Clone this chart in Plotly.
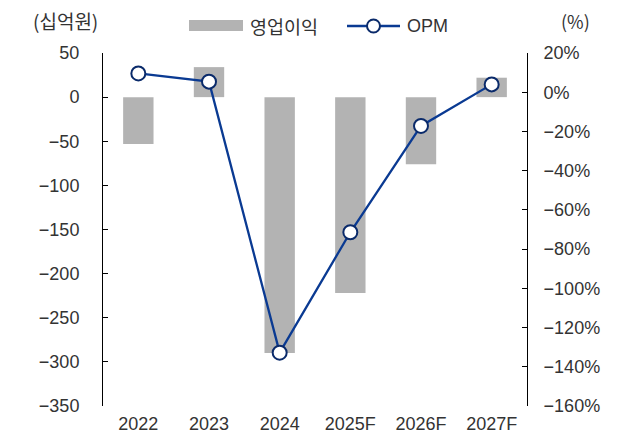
import plotly.graph_objects as go

categories = ["2022", "2023", "2024", "2025F", "2026F", "2027F"]
op_profit = [-53, 34, -290, -222, -76, 22]          # 영업이익 (십억원)
opm = [9.6, 5.4, -132.8, -71.4, -17.2, 4.0]          # OPM (%)

left_range = [-350, 50]
right_range = [-160, 20]
left_ticks = list(range(-350, 51, 50))
right_ticks = list(range(-160, 21, 20))
right_ticktext = [("−" if v < 0 else "") + f"{abs(v)}%" for v in right_ticks]

FONT = "Arial, 'Liberation Sans', 'Noto Sans CJK KR', sans-serif"
KFONT = "'Noto Sans CJK KR', Arial, sans-serif"
TXT = "#333333"
BAR = "#b3b3b3"
LINE = "#0a3a92"
MLINE = "#0a2a6a"

fig = go.Figure()
fig.add_trace(go.Bar(x=categories, y=op_profit, marker=dict(color=BAR, line=dict(width=0)),
                     width=0.43, yaxis="y", showlegend=False, name="영업이익"))
fig.add_trace(go.Scatter(x=categories, y=opm, mode="lines+markers", yaxis="y2",
                         line=dict(color=LINE, width=2.3),
                         marker=dict(size=14, color="white", line=dict(color=MLINE, width=2)),
                         showlegend=False, name="OPM"))

zero_pos = (0 - left_range[0]) / (left_range[1] - left_range[0])
n = len(categories)

fig.update_layout(
    width=621, height=434,
    margin=dict(l=103, r=94, t=53, b=28, autoexpand=False),
    paper_bgcolor="white", plot_bgcolor="white",
    font=dict(family=FONT, size=18, color=TXT),
    xaxis=dict(type="category", range=[-0.5, n - 0.5], showline=False, ticks="",
               showgrid=False, zeroline=False, tickfont=dict(size=18, color=TXT),
               ticklabelstandoff=5, automargin=False),
    xaxis2=dict(overlaying="x", anchor="free", position=zero_pos, side="bottom",
                range=[-0.5, n - 0.5], showline=True, linecolor="black", linewidth=1,
                ticks="inside", ticklen=5, tickcolor="black", tickwidth=1,
                tickmode="array", tickvals=[i + 0.5 for i in range(n - 1)],
                showticklabels=False, showgrid=False, zeroline=False),
    yaxis=dict(range=left_range, tickmode="array", tickvals=left_ticks,
               showline=True, linecolor="black", linewidth=1,
               ticks="inside", ticklen=5, tickcolor="black",
               showgrid=False, zeroline=False, ticklabelstandoff=19,
               tickfont=dict(size=18, color=TXT), automargin=False),
    yaxis2=dict(range=right_range, overlaying="y", side="right", tickmode="array",
                tickvals=right_ticks, ticktext=right_ticktext,
                showline=True, linecolor="black", linewidth=1,
                ticks="inside", ticklen=5, tickcolor="black",
                showgrid=False, zeroline=False, ticklabelstandoff=12,
                tickfont=dict(size=18, color=TXT), automargin=False),
)

# pixel -> paper helpers for the hand-built legend and unit labels
L, R, T, B = 103, 527, 53, 406
def px(x):
    return (x - L) / (R - L)
def py(y):
    return (B - y) / (B - T)

shapes = [
    dict(type="rect", xref="paper", yref="paper", x0=px(189), x1=px(243), y0=py(31), y1=py(20),
         fillcolor=BAR, line=dict(width=0)),
    dict(type="line", xref="paper", yref="paper", x0=px(347), x1=px(400), y0=py(26), y1=py(26),
         line=dict(color=LINE, width=2.3)),
    dict(type="circle", xref="paper", yref="paper", xsizemode="pixel", ysizemode="pixel",
         xanchor=px(373.5), yanchor=py(26), x0=-6.5, x1=6.5, y0=-6.5, y1=6.5,
         fillcolor="white", line=dict(color=MLINE, width=2)),
]
fig.update_layout(shapes=shapes)

annotations = [
    dict(text="영업이익", x=px(248), y=py(26), xanchor="left", yanchor="middle", size=18.5),
    dict(text="OPM", x=px(405), y=py(26), xanchor="left", yanchor="middle", size=18),
    dict(text="(십억원)", x=px(65), y=py(21), xanchor="center", yanchor="middle", size=19),
    dict(text="(%)", x=px(575), y=py(21), xanchor="center", yanchor="middle", size=18),
]
for a in annotations:
    s = a.pop("size")
    a.update(xref="paper", yref="paper", showarrow=False,
             font=dict(family=KFONT if a["text"] != "OPM" else FONT, size=s, color=TXT))
fig.update_layout(annotations=annotations)

fig.write_html("out.html", config={"displayModeBar": False},
               post_script="document.body.style.margin='0';document.body.style.padding='0';")
